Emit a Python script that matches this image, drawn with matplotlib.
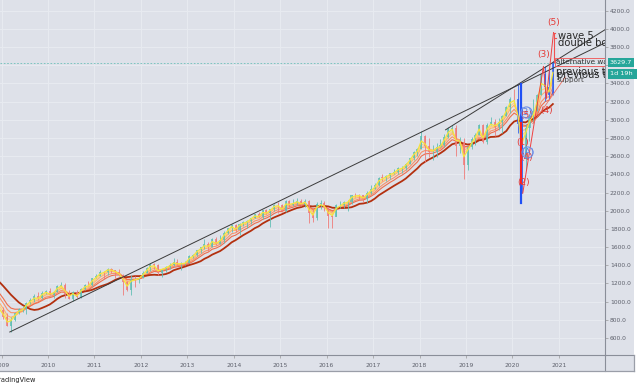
import numpy as np
import pandas as pd
import matplotlib
matplotlib.use("Agg")
import matplotlib.pyplot as plt
import matplotlib.dates as mdates
from matplotlib.patches import Rectangle
from matplotlib.lines import Line2D
from matplotlib.ticker import FuncFormatter

# monthly S&P 500 bars, Jan 2008 .. Nov 2020 (2008 only warms up the averages)
closes = [1379, 1331, 1323, 1386, 1400, 1280, 1267, 1283, 1166, 969, 896, 903,
          826, 735, 798, 873, 919, 919, 987, 1021, 1057, 1036, 1096, 1115,
          1074, 1104, 1169, 1187, 1089, 1031, 1102, 1049, 1141, 1183, 1181, 1258,
          1286, 1327, 1326, 1364, 1345, 1321, 1292, 1219, 1131, 1253, 1247, 1258,
          1312, 1366, 1409, 1398, 1310, 1362, 1379, 1407, 1441, 1412, 1416, 1426,
          1498, 1515, 1569, 1598, 1631, 1606, 1686, 1633, 1682, 1757, 1806, 1848,
          1783, 1859, 1872, 1884, 1924, 1960, 1931, 2003, 1972, 2018, 2068, 2059,
          1995, 2104, 2068, 2086, 2107, 2063, 2104, 1972, 1920, 2079, 2080, 2044,
          1940, 1932, 2060, 2065, 2097, 2099, 2174, 2171, 2168, 2126, 2199, 2239,
          2279, 2364, 2363, 2384, 2412, 2423, 2470, 2472, 2519, 2575, 2648, 2674,
          2824, 2714, 2641, 2648, 2705, 2718, 2816, 2902, 2914, 2712, 2760, 2507,
          2704, 2784, 2834, 2946, 2752, 2942, 2980, 2926, 2977, 3038, 3141, 3231,
          3226, 2954, 2585, 2912, 3044, 3100, 3271, 3500, 3363, 3270, 3630]
highs = [1471, 1396, 1340, 1397, 1440, 1405, 1293, 1313, 1304, 1167, 1007, 919,
         943, 875, 832, 878, 930, 956, 997, 1039, 1080, 1101, 1113, 1130,
         1150, 1113, 1181, 1220, 1205, 1131, 1120, 1130, 1148, 1196, 1227, 1263,
         1302, 1344, 1333, 1367, 1371, 1346, 1356, 1307, 1230, 1293, 1277, 1268,
         1334, 1378, 1420, 1422, 1415, 1364, 1392, 1426, 1475, 1471, 1434, 1448,
         1510, 1525, 1570, 1598, 1687, 1654, 1698, 1710, 1730, 1776, 1814, 1849,
         1850, 1867, 1884, 1897, 1925, 1969, 1991, 2005, 2019, 2019, 2076, 2094,
         2072, 2120, 2118, 2126, 2135, 2130, 2133, 2113, 2021, 2094, 2117, 2105,
         2044, 1963, 2073, 2111, 2104, 2121, 2178, 2194, 2188, 2170, 2214, 2278,
         2301, 2371, 2401, 2398, 2418, 2454, 2484, 2491, 2520, 2582, 2657, 2695,
         2873, 2836, 2801, 2718, 2742, 2791, 2848, 2917, 2941, 2940, 2815, 2800,
         2708, 2813, 2860, 2950, 2954, 2965, 3028, 3014, 3022, 3050, 3154, 3248,
         3338, 3394, 3136, 2955, 3068, 3233, 3280, 3514, 3588, 3550, 3646]
lows = [1270, 1316, 1257, 1313, 1373, 1272, 1200, 1249, 1107, 840, 741, 818,
        805, 735, 667, 783, 866, 888, 869, 978, 991, 1020, 1029, 1086,
        1071, 1045, 1102, 1167, 1040, 1029, 1011, 1040, 1040, 1131, 1173, 1173,
        1257, 1282, 1249, 1295, 1311, 1259, 1282, 1077, 1114, 1075, 1159, 1203,
        1258, 1312, 1340, 1358, 1292, 1267, 1325, 1355, 1397, 1403, 1343, 1398,
        1426, 1485, 1501, 1536, 1581, 1560, 1605, 1627, 1633, 1646, 1747, 1768,
        1770, 1738, 1834, 1815, 1859, 1915, 1930, 1905, 1965, 1821, 2002, 1972,
        1988, 1981, 2040, 2048, 2068, 2056, 2045, 1867, 1872, 1894, 2019, 1993,
        1812, 1810, 1937, 2034, 2026, 1992, 2075, 2148, 2120, 2097, 2084, 2187,
        2239, 2271, 2322, 2329, 2344, 2405, 2407, 2418, 2447, 2519, 2557, 2605,
        2674, 2533, 2586, 2553, 2595, 2698, 2699, 2796, 2864, 2604, 2631, 2347,
        2444, 2681, 2722, 2834, 2750, 2729, 2942, 2822, 2892, 2856, 3038, 3070,
        3214, 2855, 2192, 2447, 2766, 2966, 3100, 3271, 3210, 3234, 3270]
first_open = 1468
last_price = 3629.7
highlight = ["2020-02", "2020-03", "2020-09", "2020-10", "2020-11"]

# ribbon: (span in months, colour); last one is a simple 12-month average
ribbon = [(3, "#ffd27a"), (4, "#ffb36b"), (6, "#f89268"), (8, "#ee6e4c")]
fast_ema = (2, "#f6e43c")
slow_ma = (12, "#b3300f")

# drawings on the chart
trend_a = [("2009-03-06", 666), ("2018-01-26", 2872)]
trend_b = [("2018-09-21", 2941), ("2020-02-19", 3394)]
trend_b_start = "2018-07-25"
wave_path = [("2020-03-23", 2192), ("2020-09-02", 3588), ("2020-09-24", 3230), ("2020-11-20", 3960)]
fan_line = [("2020-06-10", 2960), ("2021-02-20", 3470)]
wave_labels = [("(5)", "2020-11-22", 4076, "#e53935"),
               ("(3)", "2020-09-05", 3724, "#e53935"),
               ("(4)", "2020-09-28", 3108, "#e53935"),
               ("(3)", "2020-04-18", 3085, "#5b7fe0"),
               ("(5)", "2020-04-22", 3052, "#e53935"),
               ("(1)", "2020-03-20", 2755, "#e53935"),
               ("(A)", "2020-04-28", 2645, "#5b7fe0"),
               ("(4)", "2020-04-22", 2590, "#e53935"),
               ("(2)", "2020-04-01", 2316, "#e53935")]
blue_drop = [("2020-03-09", 3390), ("2020-03-09", 2085)]
notes = [("wave 5", "2020-12-27", 3922, 7.2, "#2a2a2a"),
         ("double bottom", "2020-12-27", 3842, 7.2, "#2a2a2a"),
         ("previous top", "2020-12-10", 3530, 7.2, "#2a2a2a"),
         ("previous top", "2020-12-14", 3492, 7.2, "#2a2a2a"),
         ("support", "2020-12-14", 3440, 5.2, "#444444")]

dates = pd.date_range("2008-01-01", periods=len(closes), freq="MS") + pd.Timedelta(days=14)
df = pd.DataFrame({"close": closes, "high": highs, "low": lows}, index=dates)
df["open"] = df["close"].shift(1).fillna(first_open)

bg = "#dee1e9"
fig = plt.figure(figsize=(6.38, 3.91), dpi=100)
fig.patch.set_facecolor("white")
fig.add_artist(Rectangle((0, 20 / 391), 634 / 638, 371 / 391, transform=fig.transFigure,
                         facecolor=bg, edgecolor="none", zorder=-10))
ax = fig.add_axes([0, 36 / 391, 605 / 638, 355 / 391])
ax.set_facecolor(bg)

vis = df.loc["2008-12-01":]
x = mdates.date2num(vis.index)
hl = vis.index.strftime("%Y-%m").isin(highlight)
up = vis["close"] >= vis["open"]
cols = np.where(hl, "#3060f0", np.where(up, "#5fbfb4", "#ef7a78"))
ax.vlines(x, vis["low"], vis["high"], colors=cols, lw=0.7, alpha=0.85, zorder=3.2)
ax.bar(x, (vis["close"] - vis["open"]).abs().clip(lower=4), bottom=np.minimum(vis["open"], vis["close"]),
       width=16, color=cols, alpha=0.8, zorder=3.2, linewidth=0)

for span, c in ribbon:
    ema = df["close"].ewm(span=span, adjust=False).mean().loc["2008-12-01":]
    ax.plot(mdates.date2num(ema.index), ema.values, color=c, lw=0.8, zorder=3)
ema = df["close"].ewm(span=fast_ema[0], adjust=False).mean().loc["2008-12-01":]
ax.plot(mdates.date2num(ema.index), ema.values, color=fast_ema[1], lw=0.9, zorder=3.4)
sma = df["close"].rolling(slow_ma[0]).mean().loc["2008-12-01":]
ax.plot(mdates.date2num(sma.index), sma.values, color=slow_ma[1], lw=1.3, zorder=3)

x0 = mdates.datestr2num("2008-12-19")
x1 = mdates.datestr2num("2021-12-30")


def ray(pts, start):
    (da, pa), (db, pb) = pts
    xa, xb = mdates.datestr2num(da), mdates.datestr2num(db)
    k = (pb - pa) / (xb - xa)
    xs = mdates.datestr2num(start)
    return [xs, x1 + 5], [pa + k * (xs - xa), pa + k * (x1 + 5 - xa)]


for pts, st in [(trend_a, trend_a[0][0]), (trend_b, trend_b_start)]:
    xs, ys = ray(pts, st)
    ax.plot(xs, ys, color="#3a3a3a", lw=0.7, zorder=4)

bx = [mdates.datestr2num(d) for d, _ in blue_drop]
ax.plot(bx, [p for _, p in blue_drop], color="#2050f5", lw=1.6, zorder=4)
ax.plot([bx[0], bx[0]], [2960, 2300], color="#ff2020", lw=1.4, zorder=4)

wx = [mdates.datestr2num(d) for d, _ in wave_path]
wy = [p for _, p in wave_path]
ax.plot(wx, wy, color="#f04040", lw=0.7, zorder=4)
ax.plot([mdates.datestr2num(d) for d, _ in fan_line], [p for _, p in fan_line],
        color="#f07060", lw=0.6, zorder=4)
ax.plot([wx[-1], wx[-1]], [wy[-1], 3640], color="#f05050", lw=0.8, zorder=4)
ax.plot([wx[-1], wx[-1] + 14], [wy[-1], wy[-1]], color="#f05050", lw=0.8, zorder=4)
ax.plot([wx[-1], wx[-1] + 22], [3905, 3905], color="#f05050", lw=0.8, zorder=4)

for t, d, p, c in wave_labels:
    ax.text(mdates.datestr2num(d), p, t, color=c, fontsize=6.5, ha="center", va="center", zorder=5)
for d, p in [("2020-04-18", 3085), ("2020-04-28", 2645)]:
    ax.plot(mdates.datestr2num(d), p, "o", ms=8, mfc="none", mec="#6a8ee8", mew=0.8, zorder=5)

for t, d, p, fs, c in notes:
    ax.text(mdates.datestr2num(d), p, t, color=c, fontsize=fs, ha="left", va="center",
            zorder=6, clip_on=True)
ax.text(mdates.datestr2num("2020-12-12"), 3636, "alternative wave", color="#333333", fontsize=5.2,
        ha="left", va="center", zorder=6, clip_on=True,
        bbox=dict(boxstyle="square,pad=0.15", fc="none", ec="#f05050", lw=0.6))

ax.axhline(last_price, color="#6cc0b8", ls=(0, (2, 2)), lw=0.6, zorder=1)

ax.set_xlim(x0, x1)
ax.set_ylim(413, 4318)
ax.xaxis.set_major_locator(mdates.YearLocator())
ax.xaxis.set_major_formatter(mdates.DateFormatter("%Y"))
ax.set_yticks(np.arange(600, 4201, 200))
ax.yaxis.set_major_formatter(FuncFormatter(lambda v, _: "" if abs(v - 3600) < 1 else f"{v:.1f}"))
ax.yaxis.tick_right()
ax.tick_params(axis="both", labelsize=4.3, labelcolor="#5d606b", color="#999999", length=2, width=0.5)
ax.tick_params(axis="x", pad=3.5)
ax.tick_params(axis="y", pad=1.5)
ax.grid(True, color="#e8ebf1", lw=0.7, zorder=0)
ax.set_axisbelow(True)
for s in ["top", "left"]:
    ax.spines[s].set_visible(False)
for s in ["right", "bottom"]:
    ax.spines[s].set_color("#8a8e99")
    ax.spines[s].set_linewidth(0.8)

tr = ax.get_yaxis_transform()
ax.text(1.008, last_price, "3629.7", transform=tr, fontsize=4.6, color="white", ha="left", va="center",
        clip_on=False, zorder=7, bbox=dict(boxstyle="square,pad=0.35", fc="#26a69a", ec="none"))
ax.text(1.008, 3505, "1d 19h ", transform=tr, fontsize=4.6, color="white", ha="left", va="center",
        clip_on=False, zorder=7, bbox=dict(boxstyle="square,pad=0.35", fc="#26a69a", ec="none"))

fig.add_artist(Line2D([605 / 638, 634 / 638], [36 / 391, 36 / 391], color="#8a8e99", lw=0.8))
fig.add_artist(Line2D([605 / 638, 605 / 638], [20 / 391, 36 / 391], color="#8a8e99", lw=0.8))
fig.add_artist(Line2D([0, 634 / 638], [20 / 391, 20 / 391], color="#9a9ea8", lw=0.9))
fig.add_artist(Line2D([634 / 638, 634 / 638], [20 / 391, 36 / 391], color="#9a9ea8", lw=0.9))
fig.text(-0.007, 11 / 391, "TradingView", fontsize=4.8, color="#222222", ha="left", va="center")

fig.savefig("out.png", dpi=100, facecolor=fig.get_facecolor())
